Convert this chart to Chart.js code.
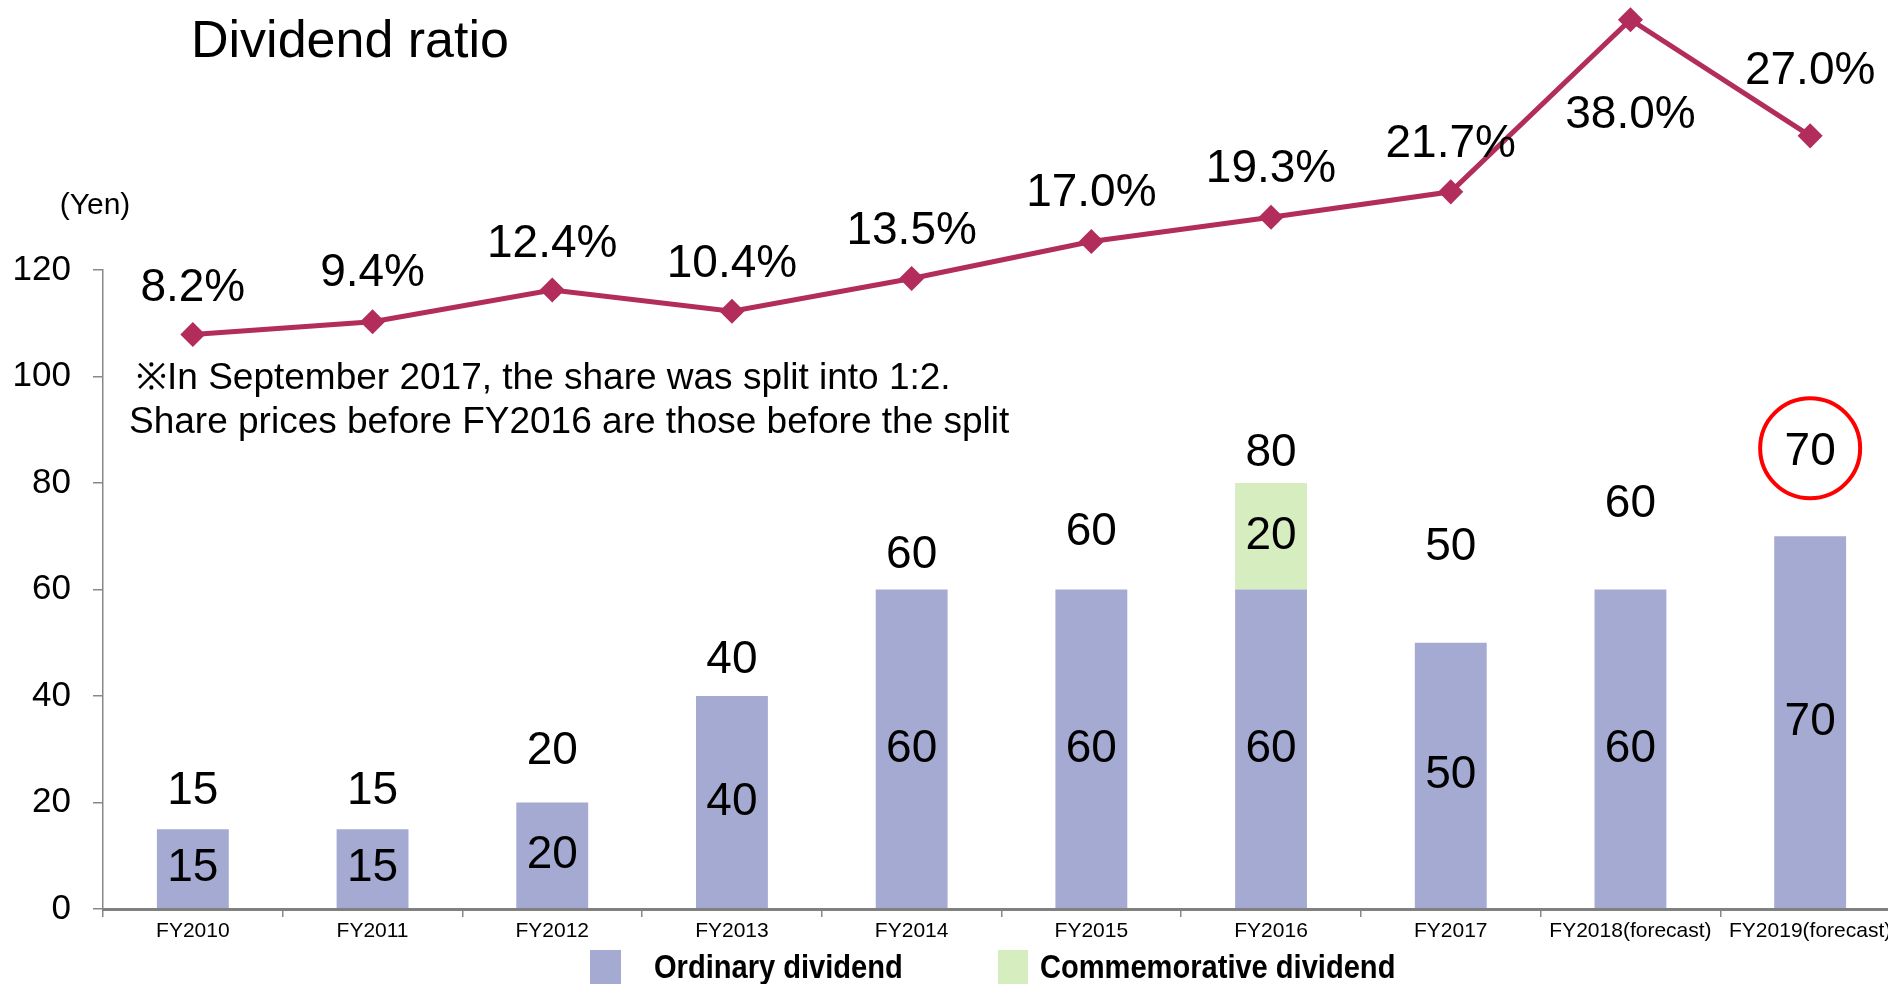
<!DOCTYPE html>
<html>
<head>
<meta charset="utf-8">
<script src="https://cdn.jsdelivr.net/npm/chart.js@4"></script>
<style>
  html, body { margin: 0; padding: 0; background: #fff; overflow: hidden; }
  canvas { display: block; }
</style>
</head>
<body>
<!-- a bit wider than the window: the plot runs past the right edge of the slide -->
<canvas id="my-chart" width="1900" height="984"></canvas>
<script>
const ctx = document.querySelector('#my-chart').getContext('2d')

//  Data

const years = ['FY2010', 'FY2011', 'FY2012', 'FY2013', 'FY2014', 'FY2015', 'FY2016', 'FY2017', 'FY2018(forecast)', 'FY2019(forecast)']
const ordinaryDividend = [15, 15, 20, 40, 60, 60, 60, 50, 60, 70]
const commemorativeDividend = [null, null, null, null, null, null, 20, null, null, null]
const payoutRatio = [8.2, 9.4, 12.4, 10.4, 13.5, 17.0, 19.3, 21.7, 38.0, 27.0]
const seriesNames = ['Ordinary dividend', 'Commemorative dividend', 'Dividend ratio']

//  Label placement (style only)
const totalLift = [38, 38, 51, 36, 34, 57, 30, 95, 85, 84]
const ratioShift = [-46, -48, -46, -47, -47, -48, -48, -48, 96, -65]

const FONT = "'Liberation Sans', Arial, sans-serif"
const BLUE = '#A5AAD2'
const GREEN = '#D5EDBF'
const LINE = '#B22D5B'

function drawText(c, s, x, y, size, opts) {
    opts = opts || {}
    c.save()
    c.translate(x, y)
    c.scale(opts.sx || 1, 1)
    c.font = (opts.bold ? 'bold ' : '') + size + 'px ' + FONT
    c.fillStyle = opts.color || '#000'
    c.textAlign = opts.align || 'center'
    c.textBaseline = 'middle'
    c.fillText(s, 0, 0)
    c.restore()
}

//  Labels, notes and legend

let savedTop = 0

const decorations = {
    id: 'decorations',
    // the ratio line runs above the yen axis, let its markers draw there too
    beforeDatasetDraw(chart, args) {
        if (args.index === 2) {
            savedTop = chart.chartArea.top
            chart.chartArea.top = 0
        }
    },
    afterDatasetDraw(chart, args) {
        if (args.index === 2) chart.chartArea.top = savedTop
    },
    afterDatasetsDraw(chart) {
        const c = chart.ctx
        const bars = chart.getDatasetMeta(0).data
        const extra = chart.getDatasetMeta(1).data
        const pts = chart.getDatasetMeta(2).data

        bars.forEach((bar, i) => {
            drawText(c, String(ordinaryDividend[i]), bar.x, (bar.y + bar.base) / 2, 46)
            let top = bar.y
            let total = ordinaryDividend[i]
            if (commemorativeDividend[i] != null) {
                const e = extra[i]
                drawText(c, String(commemorativeDividend[i]), e.x, (e.y + e.base) / 2, 46)
                top = e.y
                total += commemorativeDividend[i]
            }
            const ly = top - totalLift[i]
            drawText(c, String(total), bar.x, ly, 46)
            if (i === bars.length - 1) {
                c.save()
                c.strokeStyle = '#FF0000'
                c.lineWidth = 4
                c.beginPath()
                c.arc(bar.x, ly - 4, 50, 0, Math.PI * 2)
                c.stroke()
                c.restore()
            }
        })

        pts.forEach((p, i) => {
            drawText(c, payoutRatio[i].toFixed(1) + '%', p.x, p.y + ratioShift[i], 46)
        })

        // title, unit and note
        drawText(c, 'Dividend ratio', 191, 43, 52, { align: 'left' })
        drawText(c, '(Yen)', 95, 206, 30)
        drawText(c, '\u203BIn September 2017, the share was split into 1:2.', 136, 379, 37, { align: 'left' })
        drawText(c, 'Share prices before FY2016 are those before the split', 129, 423, 37, { align: 'left' })

        // legend
        c.save()
        c.fillStyle = BLUE
        c.fillRect(590, 950, 31, 40)
        c.fillStyle = GREEN
        c.fillRect(998, 950, 30, 40)
        c.restore()
        drawText(c, seriesNames[0], 654, 969, 34, { align: 'left', bold: true, sx: 0.855 })
        drawText(c, seriesNames[1], 1040, 969, 34, { align: 'left', bold: true, sx: 0.855 })
    }
}

//  Chart

const data = {
    labels: years,
    datasets: [{
        type: 'bar',
        label: seriesNames[0],
        data: ordinaryDividend,
        backgroundColor: BLUE,
        barPercentage: 0.4,
        categoryPercentage: 1,
        yAxisID: 'y',
        order: 2
    }, {
        type: 'bar',
        label: seriesNames[1],
        data: commemorativeDividend,
        backgroundColor: GREEN,
        barPercentage: 0.4,
        categoryPercentage: 1,
        yAxisID: 'y',
        order: 2
    }, {
        type: 'line',
        label: seriesNames[2],
        data: payoutRatio,
        borderColor: LINE,
        backgroundColor: LINE,
        borderWidth: 5,
        pointStyle: 'rectRot',
        pointRadius: 9,
        pointHoverRadius: 9,
        yAxisID: 'y1',
        clip: false,
        order: 1
    }]
}

const config = {
    type: 'bar',
    data: data,
    options: {
        responsive: false,
        animation: false,
        layout: { autoPadding: false, padding: { top: 270, left: 0, right: 0, bottom: 0 } },
        plugins: {
            legend: { display: false },
            tooltip: { enabled: false },
            title: { display: false }
        },
        scales: {
            x: {
                stacked: true,
                grid: { offset: true, drawOnChartArea: false, tickLength: 8, color: '#888', lineWidth: 1.5 },
                border: { display: true, color: '#808080', width: 3, z: 1 },
                ticks: { color: '#000', font: { family: FONT, size: 21 }, padding: 2, maxRotation: 0, autoSkip: false },
                afterFit: (scale) => {
                    scale.height = 75
                    scale.paddingLeft = 0
                    scale.paddingRight = 0
                }
            },
            y: {
                stacked: true,
                min: 0,
                max: 120,
                ticks: { stepSize: 20, color: '#000', font: { family: FONT, size: 35 }, padding: 22 },
                grid: { drawOnChartArea: false, tickLength: 10, color: '#888', lineWidth: 1.5 },
                border: { display: true, color: '#888', width: 1.5 },
                afterFit: (scale) => { scale.width = 103 }
            },
            y1: {
                display: false,
                min: -46.2,
                max: 14.3
            }
        }
    },
    plugins: [decorations]
}

const myChart = new Chart(ctx, config)
</script>
</body>
</html>
